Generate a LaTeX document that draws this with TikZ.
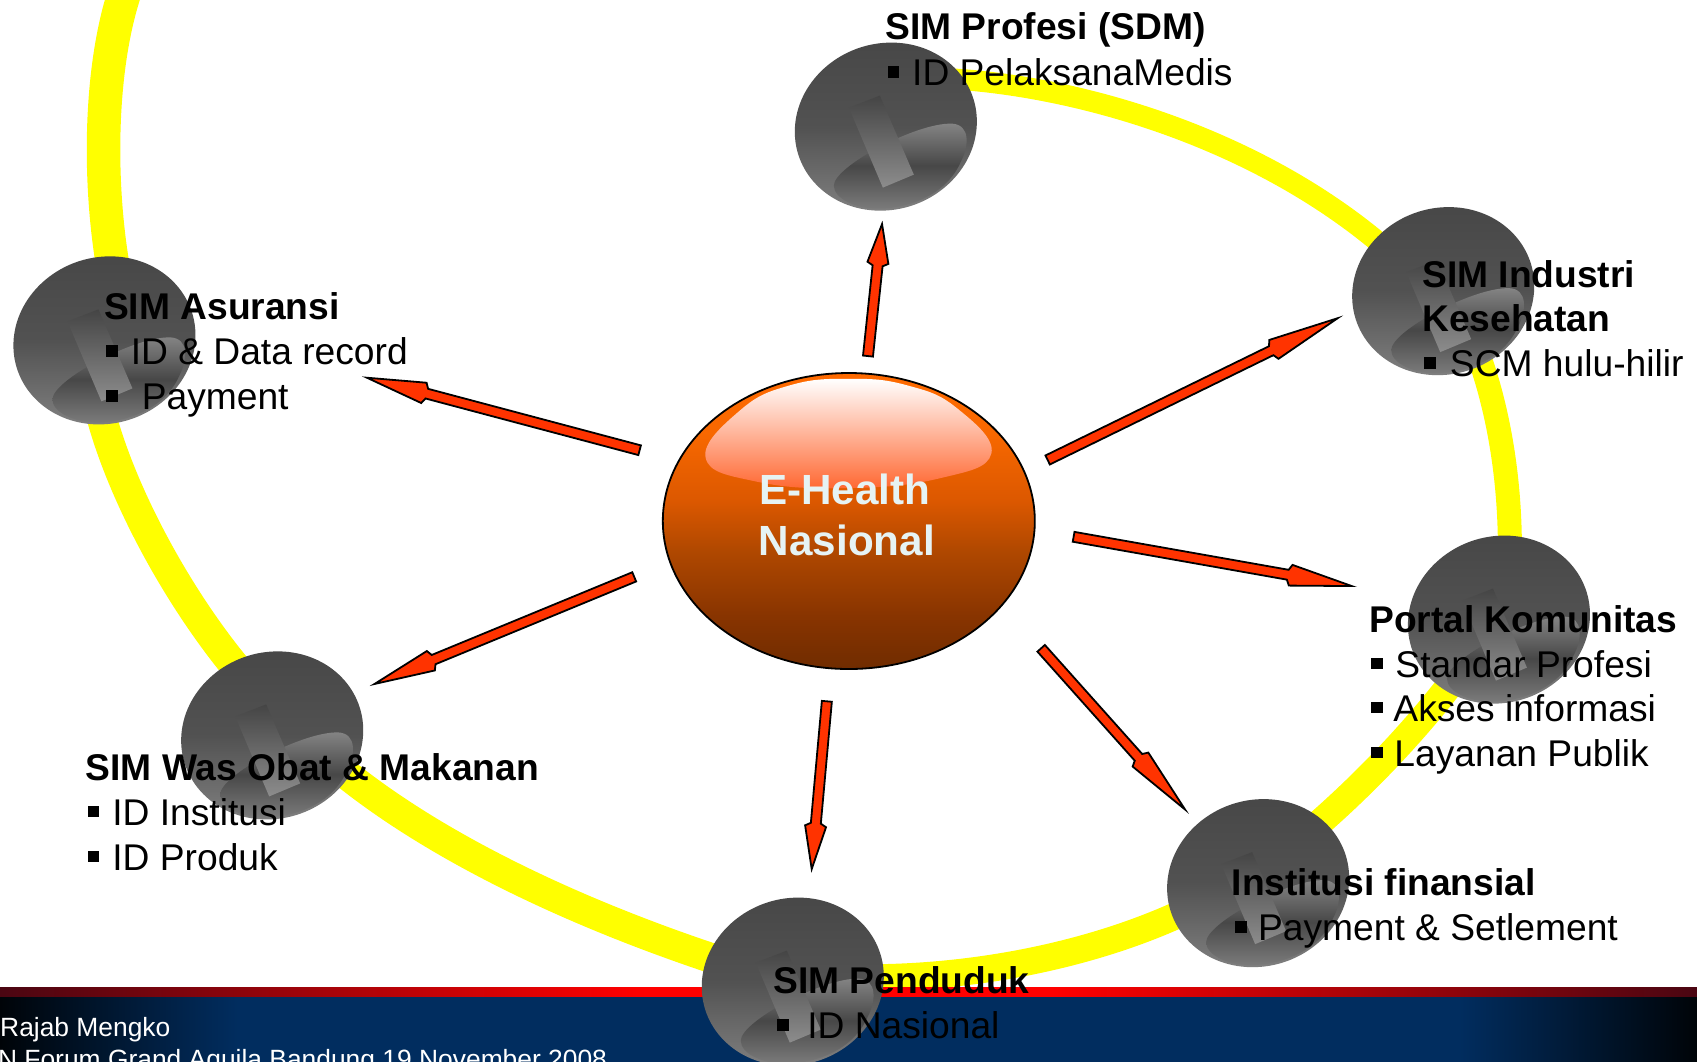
\documentclass[tikz,border=0pt]{standalone}
\usepackage{fontspec}
\setmainfont{Liberation Sans}
\usetikzlibrary{calc,shapes.geometric}
\definecolor{fblue}{HTML}{012D5F}
\definecolor{fdark}{HTML}{000408}
\definecolor{rdark}{HTML}{4A0612}
\definecolor{pure}{HTML}{FF0000}
\definecolor{ringyellow}{HTML}{FFFF00}
\definecolor{ctop}{HTML}{FF6A00}
\definecolor{cbot}{HTML}{702C00}
\definecolor{cb}{HTML}{883400}
\definecolor{cc}{HTML}{B04800}
\definecolor{cd}{HTML}{DC5800}
\definecolor{ce}{HTML}{F86800}
\definecolor{glassbot}{HTML}{FF6832}
\definecolor{ctext}{HTML}{E6F3F4}
\pgfdeclarehorizontalshading{footblue}{100bp}{color(0bp)=(fdark); color(25bp)=(fdark); color(32bp)=(fblue); color(68bp)=(fblue); color(75bp)=(fdark); color(100bp)=(fdark)}
\pgfdeclarehorizontalshading{footred}{100bp}{color(0bp)=(rdark); color(25bp)=(rdark); color(44bp)=(pure); color(56bp)=(pure); color(75bp)=(rdark); color(100bp)=(rdark)}
\pgfdeclareverticalshading{centreshade}{100bp}{color(0bp)=(cbot); color(25bp)=(cbot); color(34bp)=(cb); color(45bp)=(cc); color(53.5bp)=(cd); color(65bp)=(ce); color(75bp)=(ctop); color(100bp)=(ctop)}
\definecolor{arrowred}{HTML}{FF3300}
\tikzset{
  ringseg/.style={draw=ringyellow,line cap=butt},
  headline/.style={anchor=base west,inner sep=0pt,xshift=1pt,yshift=-1pt,font=\fontsize{37.2}{45}\selectfont\bfseries,text=black},
  itemline/.style={anchor=base west,inner sep=0pt,yshift=-1pt,font=\fontsize{37.2}{45}\selectfont,text=black},
  footline/.style={anchor=base west,inner sep=0pt,font=\fontsize{26.4}{30}\selectfont,text=white},
  centretext/.style={anchor=base,inner sep=0pt,font=\fontsize{42.2}{52}\selectfont\bfseries,text=ctext},
  blockarrow/.style={draw=black,line width=1.8pt,fill=arrowred,line join=miter},
}
\newcommand{\bul}[1]{\makebox[#1pt][l]{\rule[8pt]{11.5pt}{11.5pt}}}
\newcommand{\ball}[2]{%
  \coordinate (#1) at (#2);
  \begin{scope}[shift={(#1)},x=1pt,y=1pt]
    \path[cm={1,0.03,0.03,1,(0,0)},top color=black!72,bottom color=black!50,middle color=black!68] (0,0) ellipse (91 and 84);
    \begin{scope}
      \clip[cm={1,0.03,0.03,1,(0,0)}] (0,0) ellipse (89 and 82);
      \path[top color=black!48,bottom color=black!52,middle color=black!72]
        (-52,-59) .. controls (-52,-40) and (30,4) .. (66,3) .. controls (85,2) and (83,-20) .. (75,-35) .. controls (60,-70) and (20,-82) .. (-8,-82) .. controls (-30,-82) and (-52,-72) .. (-52,-59) -- cycle;
    \end{scope}
    \path[top color=black!73,bottom color=black!45] (-37,19) -- (-6,31) -- (28,-48) -- (-3,-61) -- cycle;
  \end{scope}}
\newcommand{\blockar}[3]{%
  \draw[blockarrow]
    ($(#1)!5pt!90:(#2)$) --
    ($($(#2)!#3pt!(#1)$)!5pt!90:(#2)$) --
    ($($(#2)!#3pt-3pt!(#1)$)!10.5pt!90:(#2)$) --
    (#2) --
    ($($(#2)!#3pt-3pt!(#1)$)!10.5pt!-90:(#2)$) --
    ($($(#2)!#3pt!(#1)$)!5pt!-90:(#2)$) --
    ($(#1)!5pt!-90:(#2)$) -- cycle;}
\begin{document}
\begin{tikzpicture}[x=1.08227pt,y=-1.08227pt]
\useasboundingbox (0,0) rectangle (1568,981);
\clip (0,0) rectangle (1568,981);
\fill[white] (0,0) rectangle (1568,981);
% ring, one stretch between each pair of balls
\draw[ringseg,line width=21pt] (850,72) .. controls (970,72) and (1160,120) .. (1290,238);
\draw[ringseg,line width=24pt] (1350,290) .. controls (1375,340) and (1397,420) .. (1395,520);
\draw[ringseg,line width=27pt] (1370,590) .. controls (1335,645) and (1270,720) .. (1190,785);
\draw[ringseg,line width=27pt] (1140,818) .. controls (1040,880) and (880,915) .. (730,900);
\draw[ringseg,line width=30pt] (270,670) .. controls (365,770) and (540,852) .. (720,905);
\draw[ringseg,line width=30pt] (90,370) .. controls (108,450) and (165,555) .. (225,625);
\draw[ringseg,line width=33.5pt] (120.5,-25) -- (113,0) .. controls (92,70) and (91,170) .. (105,250);
% footer
\path[shading=footblue] (0,921) rectangle (1568,981);
\path[shading=footred] (0,912.5) rectangle (1568,921);
\node[footline] (rajab) at (0,958) {Rajab Mengko};
\node[footline] (forum) at (-2,987) {N Forum Grand Aquila Bandung 19 November 2008};
% balls
\ball{profesi}{818.5,117}
\ball{industri}{1333.5,269}
\ball{portal}{1385,572.5}
\ball{finansial}{1162.5,816}
\ball{penduduk}{732.5,907}
\ball{wasobat}{251.5,679.5}
\ball{asuransi}{96.5,314.5}
% centre
\node[draw=black,line width=1.8pt,ellipse,minimum width=372pt,minimum height=296pt,inner sep=0pt,shading=centreshade] (centre) at (784.3,481.4) {};
\path[top color=white,bottom color=glassbot]
  plot[smooth cycle,tension=.75] coordinates {(785,350) (730,356) (684,379) (652,423) (699,445) (782.5,451) (868,442) (916,419) (884,377) (838,356)};
\node[centretext] (t1) at (780.5,466.5) {E-Health};
\node[centretext] (t2) at (782.5,513.5) {Nasional};
% arrows
\coordinate (a1) at (802,329); \coordinate (b1) at (815,207);
\coordinate (a2) at (968,425); \coordinate (b2) at (1236,294);
\coordinate (a3) at (992,496); \coordinate (b3) at (1249,541.5);
\coordinate (a4) at (962,599); \coordinate (b4) at (1095,748);
\coordinate (a5) at (764,648); \coordinate (b5) at (750,803);
\coordinate (a6) at (586,533); \coordinate (b6) at (346,632);
\coordinate (a7) at (591,416); \coordinate (b7) at (339,349);
\blockar{a1}{b1}{42}\blockar{a2}{b2}{74}\blockar{a3}{b3}{65}\blockar{a4}{b4}{70}\blockar{a5}{b5}{46}\blockar{a6}{b6}{64}\blockar{a7}{b7}{62}
% labels
\node[headline] (l1) at (817,36) {SIM Profesi (SDM)};
\node[itemline] (l2) at (820,78.5) {\bul{24.5}ID PelaksanaMedis};
\node[headline] (l3) at (1313,265) {SIM Industri};
\node[headline] (l4) at (1313,305) {Kesehatan};
\node[itemline] (l5) at (1316,347) {\bul{25.5}SCM hulu-hilir};
\node[headline] (l6) at (95,294) {SIM Asuransi};
\node[itemline] (l7) at (98,336) {\bul{24.5}ID \& Data record};
\node[itemline] (l8) at (98,377.5) {\bul{35.5}Payment};
\node[headline] (l9) at (1264,583.5) {Portal Komunitas};
\node[itemline] (l10) at (1267,625) {\bul{24}Standar Profesi};
\node[itemline] (l11) at (1267,665.5) {\bul{22}Akses informasi};
\node[itemline] (l12) at (1267,707) {\bul{23}Layanan Publik};
\node[headline] (l13) at (1137,826.5) {Institusi finansial};
\node[itemline] (l14) at (1141,868.5) {\bul{23}Payment \& Setlement};
\node[headline] (l15) at (713.5,917) {SIM Penduduk};
\node[itemline] (l16) at (718,959) {\bul{30}ID Nasional};
\node[headline] (l17) at (78,720) {SIM Was Obat \& Makanan};
\node[itemline] (l18) at (81,761.5) {\bul{24.5}ID Institusi};
\node[itemline] (l19) at (81,803) {\bul{24.5}ID Produk};
\end{tikzpicture}
\end{document}
